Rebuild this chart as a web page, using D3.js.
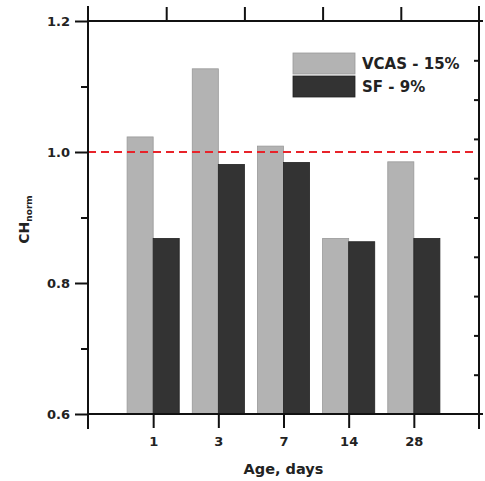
<!DOCTYPE html>
<html>
<head>
<meta charset="utf-8">
<script src="https://cdn.jsdelivr.net/npm/d3@7"></script>
<style>
    body { margin: 0; background: #fff; }
    .axis path { display: none; }
    .axis line { stroke: #111; stroke-width: 2px; }
    .axis text { font-family: "DejaVu Sans", sans-serif; font-weight: bold; font-size: 13px; fill: #222; }
    .frame { stroke: #111; stroke-width: 2px; }
    .label { font-family: "DejaVu Sans", sans-serif; font-weight: bold; fill: #222; }
</style>
</head>
<body>
<div id="chart"></div>
<script>
var ages = ["1", "3", "7", "14", "28"];
var vcas = [1.023, 1.127, 1.009, 0.868, 0.985];
var sf = [0.868, 0.981, 0.984, 0.863, 0.868];
var seriesNames = ["VCAS - 15%", "SF - 9%"];
var yTicks = [0.6, 0.8, 1.0, 1.2];
var yMinorTicks = [0.7, 0.9, 1.1];
var refValue = 1.0;

var margin = {top: 21, right: 6, bottom: 67, left: 88},
    width = 485 - margin.left - margin.right,
    height = 481 - margin.top - margin.bottom;

var colors = ["#b3b3b3", "#333333"];
var strokes = ["#999999", "#222222"];

// categories sit at 1..5 on a 0..6 axis
var x = d3.scaleLinear().domain([0, ages.length + 1]).range([0, width]);
var y = d3.scaleLinear().domain([0.6, 1.2]).range([height, 0]);
// unlabeled secondary scales on the top and right
var xTop = d3.scaleLinear().domain([0, 5]).range([0, width]);
var yRight = d3.scaleLinear().domain([0, 10]).range([height, 0]);

var svg = d3.select("#chart").append("svg")
    .attr("width", 485)
    .attr("height", 481)
    .append("g")
    .attr("transform", "translate(" + margin.left + "," + margin.top + ")");

var barW = x(0.4) - x(0);

var data = ages.map(function (a, i) {
    return {age: a, pos: i + 1, vals: [vcas[i], sf[i]]};
});

var groups = svg.selectAll(".grp")
    .data(data)
    .enter().append("g")
    .attr("class", "grp");

groups.selectAll("rect")
    .data(function (d) {
        return d.vals.map(function (v, k) {
            return {pos: d.pos, v: v, k: k};
        });
    })
    .enter().append("rect")
    .attr("x", function (d) {
        return x(d.pos) + (d.k === 0 ? -barW : 0);
    })
    .attr("y", function (d) {
        return y(d.v);
    })
    .attr("width", barW)
    .attr("height", function (d) {
        return height - y(d.v);
    })
    .attr("fill", function (d) {
        return colors[d.k];
    })
    .attr("stroke", function (d) {
        return strokes[d.k];
    })
    .attr("stroke-width", 0.8);

// reference line
svg.append("line")
    .attr("x1", 0)
    .attr("x2", width)
    .attr("y1", y(refValue))
    .attr("y2", y(refValue))
    .attr("stroke", "#e8232a")
    .attr("stroke-width", 2)
    .attr("stroke-dasharray", "8,5");

// frame
var ext = 15;
svg.append("line").attr("class", "frame")
    .attr("x1", 0).attr("x2", 0).attr("y1", -ext).attr("y2", height + ext);
svg.append("line").attr("class", "frame")
    .attr("x1", width).attr("x2", width).attr("y1", -ext).attr("y2", height + ext);
svg.append("line").attr("class", "frame")
    .attr("x1", 0).attr("x2", width + 4).attr("y1", 0).attr("y2", 0);
svg.append("line").attr("class", "frame")
    .attr("x1", 0).attr("x2", width + 4).attr("y1", height).attr("y2", height);

svg.append("g")
    .attr("class", "axis axis--y")
    .call(d3.axisLeft(y).tickValues(yTicks).tickSize(13).tickPadding(5)
        .tickFormat(d3.format(".1f")));

svg.append("g")
    .attr("class", "axis axis--y-minor")
    .call(d3.axisLeft(y).tickValues(yMinorTicks).tickSize(7).tickFormat(""));

svg.append("g")
    .attr("class", "axis axis--x")
    .attr("transform", "translate(0," + height + ")")
    .call(d3.axisBottom(x).tickValues(d3.range(1, ages.length + 1)).tickSize(14).tickPadding(9)
        .tickFormat(function (d) {
            return ages[d - 1];
        }));

svg.append("g")
    .attr("class", "axis axis--top")
    .call(d3.axisTop(xTop).tickValues([1, 2, 3, 4]).tickSize(14).tickFormat(""));

svg.append("g")
    .attr("class", "axis axis--right")
    .attr("transform", "translate(" + width + ",0)")
    .call(d3.axisRight(yRight).tickValues(d3.range(1, 10)).tickSize(-5).tickFormat(""));

// axis titles
svg.append("text")
    .attr("class", "label")
    .attr("x", x(3))
    .attr("y", height + 60)
    .attr("text-anchor", "middle")
    .style("font-size", "14.5px")
    .text("Age, days");

var yl = svg.append("text")
    .attr("class", "label")
    .attr("transform", "translate(" + (-59) + "," + (y(0.9) + 2) + ") rotate(-90)")
    .attr("text-anchor", "middle")
    .style("font-size", "14px");
yl.append("tspan").text("CH");
yl.append("tspan").attr("dy", 3).style("font-size", "9px").text("norm");

// legend
var legend = svg.selectAll(".legend")
    .data(seriesNames)
    .enter().append("g")
    .attr("class", "legend")
    .attr("transform", function (d, i) {
        return "translate(205," + (32 + i * 23) + ")";
    });

legend.append("rect")
    .attr("width", 62)
    .attr("height", 21)
    .attr("fill", function (d, i) {
        return colors[i];
    })
    .attr("stroke", function (d, i) {
        return strokes[i];
    })
    .attr("stroke-width", 0.8);

legend.append("text")
    .attr("class", "label")
    .attr("x", 69)
    .attr("y", 16)
    .style("font-size", "15px")
    .text(function (d) {
        return d;
    });
</script>
</body>
</html>
